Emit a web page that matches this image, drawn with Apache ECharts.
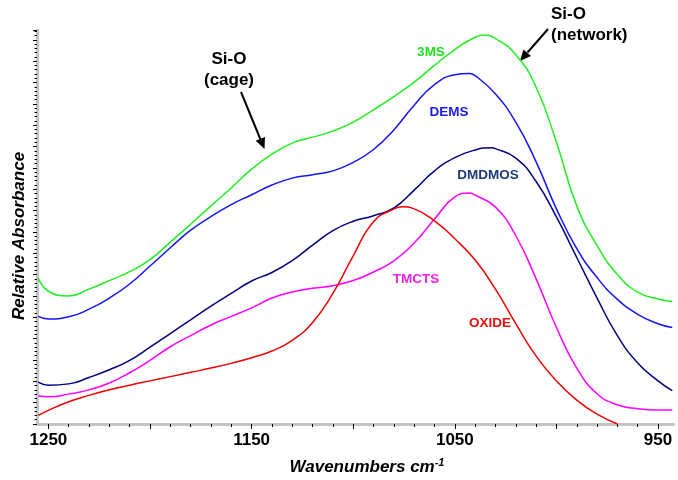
<!DOCTYPE html>
<html>
<head>
<meta charset="utf-8">
<script src="https://cdn.jsdelivr.net/npm/echarts@6/dist/echarts.min.js"></script>
<style>html,body{margin:0;padding:0;background:#fff}#c{width:678px;height:480px}</style>
</head>
<body>
<div id="c"></div>
<script>
const wavenumbers = [1255,1250,1240,1230,1220,1210,1200,1190,1180,1170,1160,1150,1140,1130,1120,1110,1100,1090,1080,1070,1060,1050,1040,1030,1020,1010,1000,990,980,970,960,950,943];
const s3MS   = [34.2,31.1,30.0,31.6,33.6,35.7,38.5,42.6,46.8,51.1,55.3,59.7,63.2,65.8,67.2,68.6,70.7,73.6,76.7,80.1,84.0,87.7,90.6,90.3,86.5,78.9,66.0,51.1,41.8,35.0,30.9,29.3,28.7];
const sDEMS  = [25.2,24.6,25.1,26.9,29.5,32.8,37.0,41.3,45.4,48.6,51.4,53.7,56.0,57.6,58.4,59.3,61.3,64.3,68.9,74.7,79.5,81.8,81.6,77.3,70.7,61.4,50.4,41.1,34.3,29.2,25.7,23.5,22.6];
const sDMDMOS= [9.8,9.1,9.4,10.9,12.7,14.9,18.0,21.2,24.4,27.6,30.6,33.5,35.5,38.3,41.9,45.3,47.5,48.8,50.6,54.8,59.3,62.4,64.2,64.5,62.3,56.8,48.5,39.0,29.5,20.7,14.3,10.1,7.8];
const sTMCTS = [6.6,6.4,7.0,8.0,9.6,12.0,14.9,18.1,20.7,23.2,25.2,27.2,29.5,30.9,31.8,32.4,33.6,35.6,38.2,42.4,48.0,53.2,53.6,50.8,44.1,34.0,22.6,13.1,7.1,4.5,3.6,3.3,3.3];
const sOXIDE = [2.0,3.2,5.2,6.7,8.0,9.1,10.1,11.1,12.1,13.1,14.2,15.5,17.1,19.6,23.8,30.6,39.4,47.4,50.4,50.4,47.6,43.4,38.4,31.6,23.5,15.9,10.1,5.6,2.3,0.0,null,null,null];
// peak maxima: [wavenumber, value]
const peak3MS    = [1035, 91.1];
const peakDEMS   = [1043, 82.1];
const peakDMDMOS = [1032, 64.7];
const peakTMCTS  = [1043, 54.1];
const peakOXIDE  = [1076, 50.9];
const seriesNames = ['3MS','DEMS','DMDMOS','TMCTS','OXIDE'];
const xLabelValues = [1250,1150,1050,950];
const xMajorTicks = [1250,1200,1150,1100,1050,1000,950];
const xMinorTicks = [];
for (let w = 950; w <= 1250; w += 10) xMinorTicks.push(w);

const FONT = '"Liberation Sans", Arial, sans-serif';
const colors = ['#22EE22','#1414F5','#000080','#FF00FF','#F00000'];
const labelColors = ['#22DD22','#1A1AE6','#1F3A78','#F020E6','#E81010'];
const allSeries = [s3MS, sDEMS, sDMDMOS, sTMCTS, sOXIDE];
const allPeaks = [peak3MS, peakDEMS, peakDMDMOS, peakTMCTS, peakOXIDE];

function buildData(vals, peak) {
  const pts = wavenumbers.map((w, j) => [w, vals[j]]);
  pts.push(peak.slice());
  pts.sort((a, b) => b[0] - a[0]);
  return pts;
}

const chart = echarts.init(document.getElementById('c'), null, {renderer: 'canvas'});
const xBase = {
  type: 'value', min: 942.4, max: 1255.6, inverse: true, position: 'bottom',
  splitLine: {show: false}
};
const option = {
  animation: false,
  backgroundColor: '#fff',
  grid: {left: 37, right: 4.5, top: 30, bottom: 56},
  xAxis: [
    Object.assign({}, xBase, {
      axisLine: {show: true, lineStyle: {color: '#C4C4C4', width: 3}},
      axisTick: {show: true, customValues: xMajorTicks, length: 5, lineStyle: {color: '#000', width: 1}},
      axisLabel: {show: true, customValues: xLabelValues, formatter: v => String(v), margin: 8, fontSize: 17, fontWeight: 'bold', color: '#000', fontFamily: FONT}
    }),
    Object.assign({}, xBase, {
      axisLine: {show: false},
      axisTick: {show: true, customValues: xMinorTicks, length: 3, lineStyle: {color: '#000', width: 1}},
      axisLabel: {show: false}
    })
  ],
  yAxis: {
    type: 'value', min: 0, max: 92.3, interval: 5,
    axisLine: {show: true, lineStyle: {color: '#C4C4C4', width: 3}},
    axisTick: {show: true, length: 4, lineStyle: {color: '#000', width: 1}},
    minorTick: {show: true, splitNumber: 5, length: 2.5, lineStyle: {color: '#000', width: 1}},
    axisLabel: {show: false},
    splitLine: {show: false}
  },
  series: allSeries.map((vals, i) => ({
    name: seriesNames[i], type: 'line', xAxisIndex: 0, smooth: 0.5, showSymbol: false,
    connectNulls: false,
    lineStyle: {color: colors[i], width: 1.5},
    data: buildData(vals, allPeaks[i])
  })),
  graphic: [
    {type: 'text', x: 431, y: 52, style: {text: seriesNames[0], fill: labelColors[0], font: 'bold 13.5px ' + FONT, align: 'center', verticalAlign: 'middle'}},
    {type: 'text', x: 449, y: 112, style: {text: seriesNames[1], fill: labelColors[1], font: 'bold 13.5px ' + FONT, align: 'center', verticalAlign: 'middle'}},
    {type: 'text', x: 488, y: 175, style: {text: seriesNames[2], fill: labelColors[2], font: 'bold 13.5px ' + FONT, align: 'center', verticalAlign: 'middle'}},
    {type: 'text', x: 416, y: 279, style: {text: seriesNames[3], fill: labelColors[3], font: 'bold 13.5px ' + FONT, align: 'center', verticalAlign: 'middle'}},
    {type: 'text', x: 490, y: 323, style: {text: seriesNames[4], fill: labelColors[4], font: 'bold 13.5px ' + FONT, align: 'center', verticalAlign: 'middle'}},
    {type: 'text', x: 229, y: 69.5, style: {text: 'Si-O\n(cage)', fill: '#000', font: 'bold 17px ' + FONT, align: 'center', verticalAlign: 'middle', lineHeight: 21}},
    {type: 'text', x: 551, y: 25, style: {text: 'Si-O\n(network)', fill: '#000', font: 'bold 17px ' + FONT, align: 'left', verticalAlign: 'middle', lineHeight: 21}},
    {type: 'line', shape: {x1: 241, y1: 92, x2: 260.5, y2: 139.5}, style: {stroke: '#000', lineWidth: 2}},
    {type: 'polygon', shape: {points: [[264.5, 149], [265, 137], [255.7, 140.7]]}, style: {fill: '#000'}},
    {type: 'line', shape: {x1: 548, y1: 29, x2: 527.5, y2: 52.5}, style: {stroke: '#000', lineWidth: 2}},
    {type: 'polygon', shape: {points: [[520, 61], [531, 56], [523.4, 49.4]]}, style: {fill: '#000'}},
    {type: 'text', x: 19, y: 236, rotation: Math.PI / 2, style: {text: 'Relative Absorbance', fill: '#000', font: 'italic bold 17px ' + FONT, align: 'center', verticalAlign: 'middle'}},
    {type: 'text', x: 367, y: 467, style: {
      text: '{m|Wavenumbers cm}{s|-1}', align: 'center', verticalAlign: 'middle',
      rich: {
        m: {font: 'italic bold 17px ' + FONT, fill: '#000', lineHeight: 20},
        s: {font: 'italic bold 11px ' + FONT, fill: '#000', verticalAlign: 'top', lineHeight: 20}
      }
    }}
  ]
};
chart.setOption(option);
</script>
</body>
</html>
